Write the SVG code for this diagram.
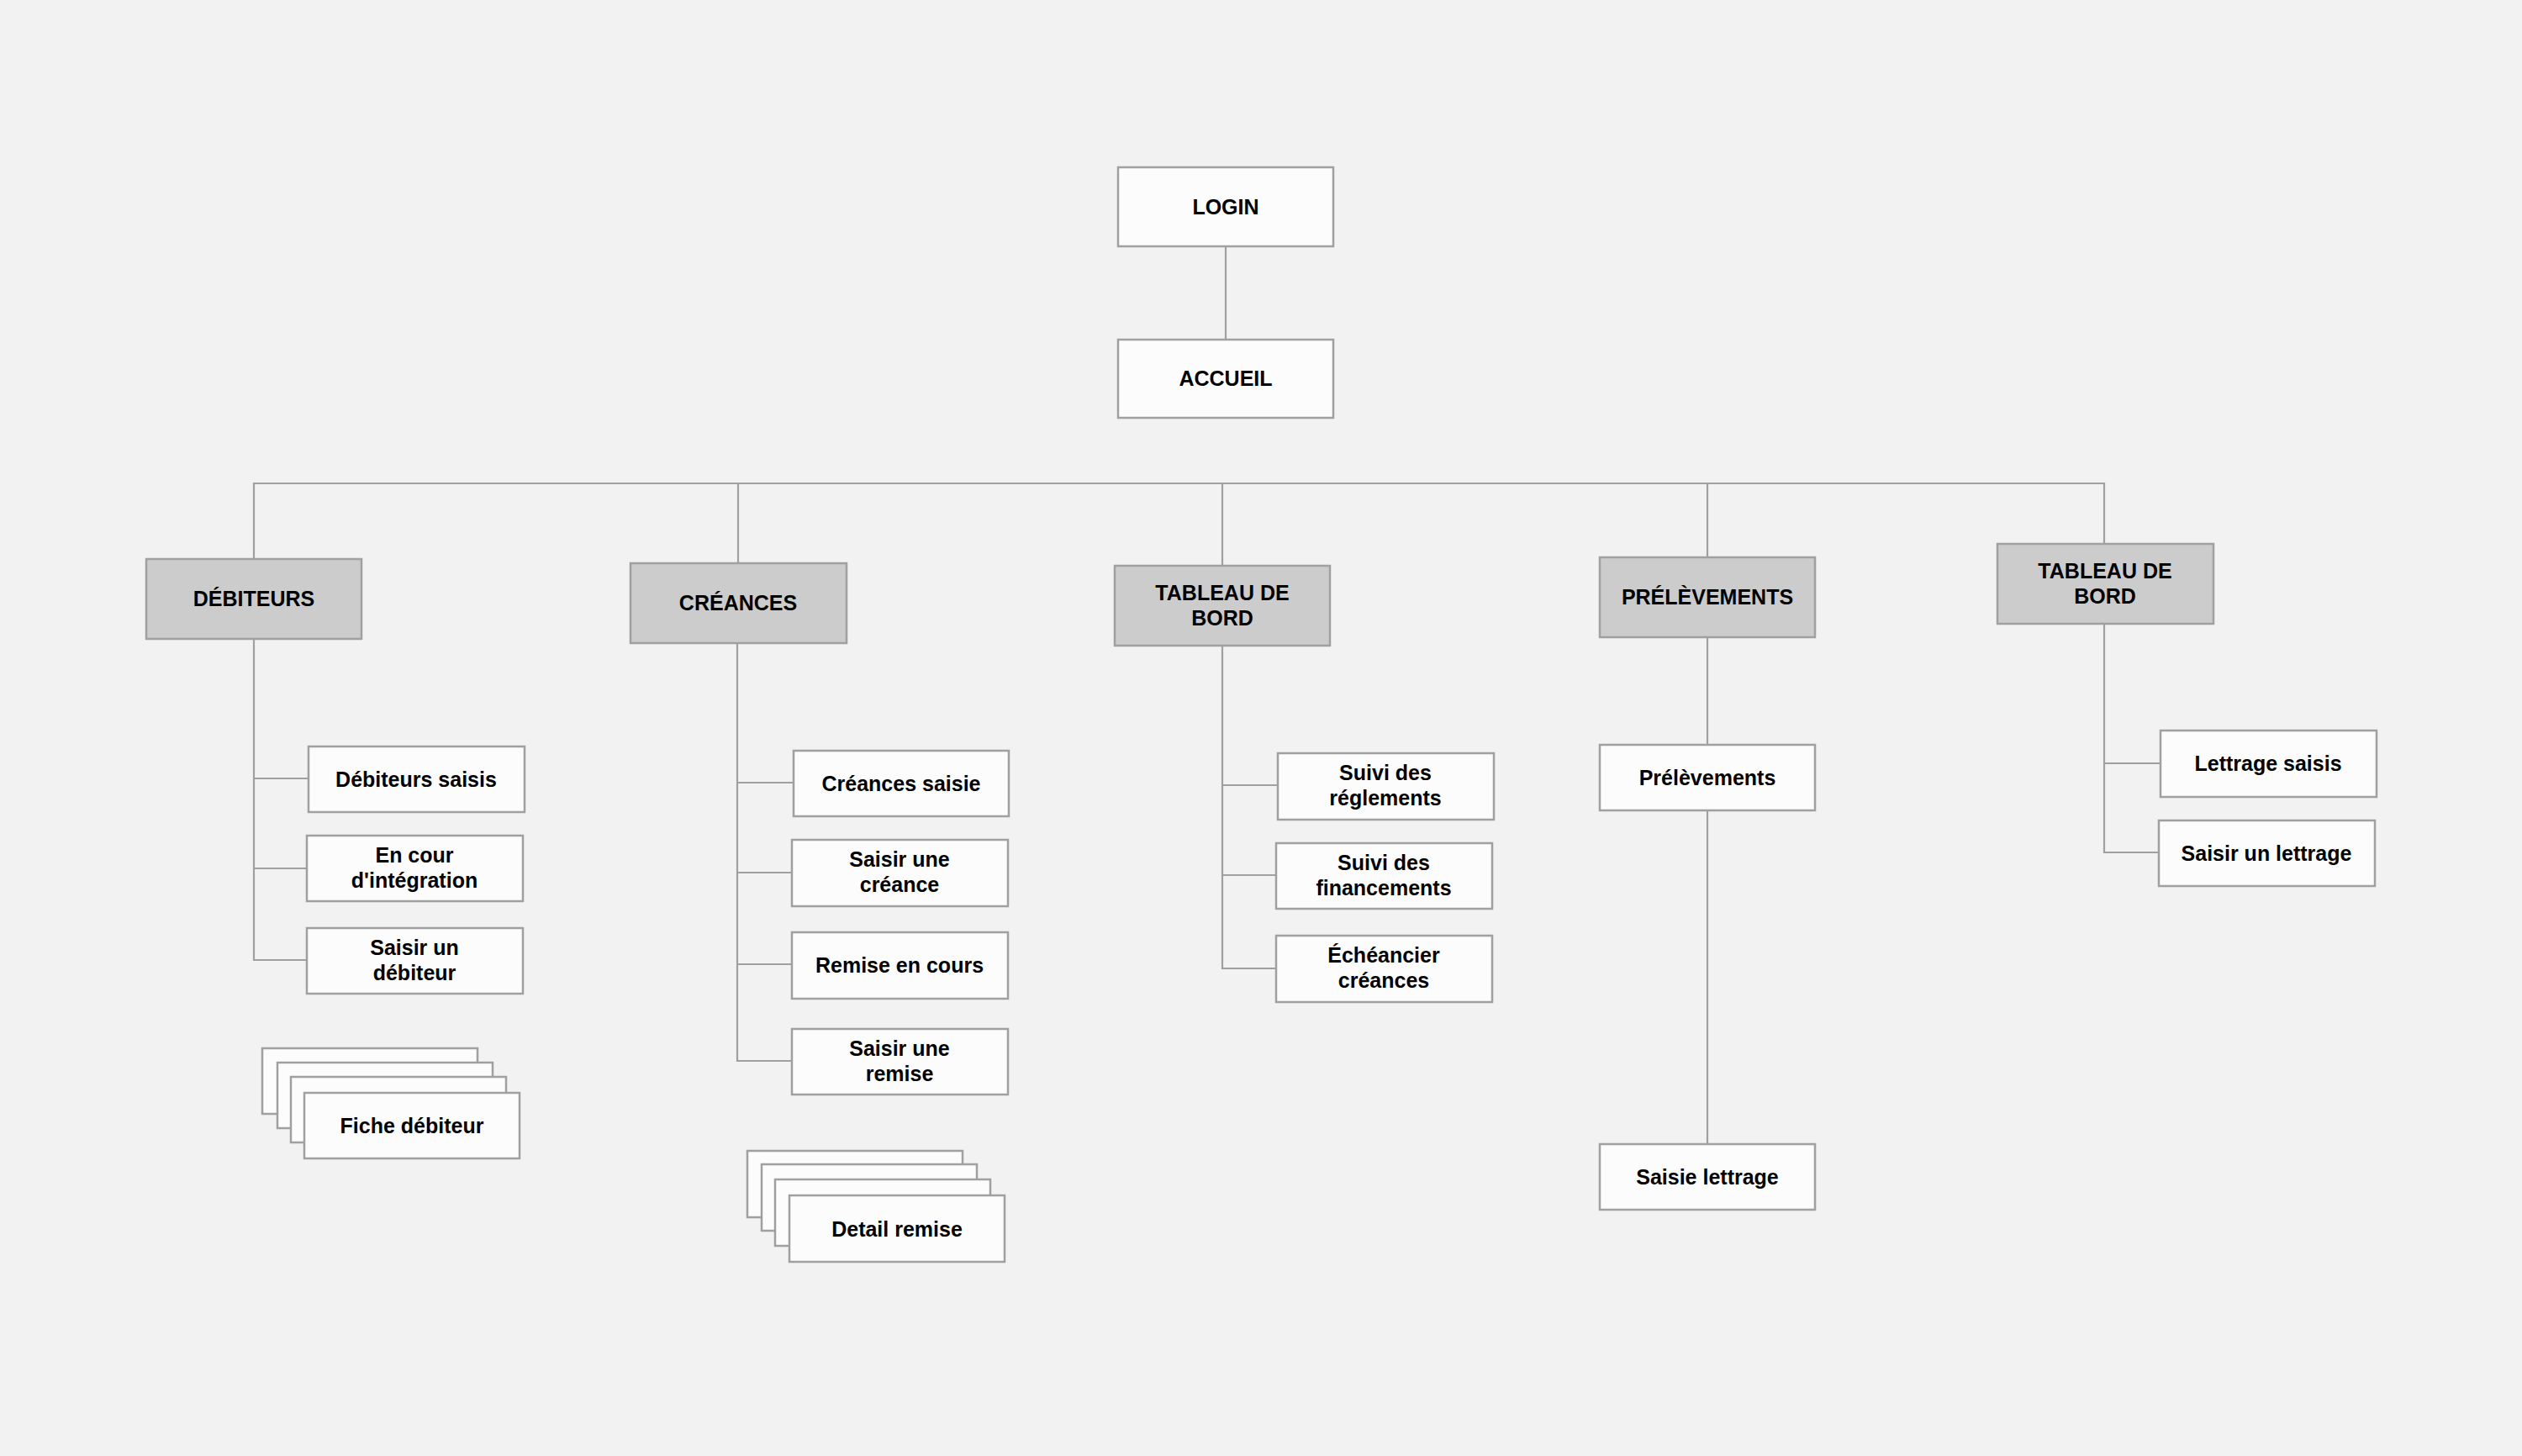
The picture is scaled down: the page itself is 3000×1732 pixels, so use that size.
<svg xmlns="http://www.w3.org/2000/svg" width="3000" height="1732" viewBox="0 0 3000 1732">
<style>
.box{fill:#fcfcfc;stroke:#a0a0a0;stroke-width:2.5}
.hdr{fill:#cccccc;stroke:#a0a0a0;stroke-width:2.5}
.t{font-family:"Liberation Sans",Arial,Helvetica,sans-serif;font-weight:bold;font-size:25px;fill:#000;text-anchor:middle}
.c{stroke:#a0a0a0;stroke-width:2.2;fill:none}
</style>
<rect width="3000" height="1732" fill="#f2f2f2"/>
<g id="connectors">
<path class="c" d="M1458 293V404"/>
<path class="c" d="M302 665V575H2503V647"/>
<path class="c" d="M878 575V670"/>
<path class="c" d="M1454 576V673"/>
<path class="c" d="M2031 576V663"/>
<path class="c" d="M302 760V1142H365M302 926H367M302 1033H365"/>
<path class="c" d="M877 765V1262H942M877 931H944M877 1038H942M877 1147H942"/>
<path class="c" d="M1454 768V1152H1518M1454 934H1520M1454 1041H1518"/>
<path class="c" d="M2031 758V886M2031 964V1361"/>
<path class="c" d="M2503 742V1014H2568M2503 908H2570"/>
</g>
<g id="login"><rect class="box" x="1330" y="199" width="256" height="94"/><text class="t" x="1458" y="255">LOGIN</text></g>
<g id="accueil"><rect class="box" x="1330" y="404" width="256" height="93"/><text class="t" x="1458" y="459">ACCUEIL</text></g>
<g id="debiteurs"><rect class="hdr" x="174" y="665" width="256" height="95"/><text class="t" x="302" y="721">DÉBITEURS</text></g>
<g id="creances"><rect class="hdr" x="750" y="670" width="257" height="95"/><text class="t" x="878" y="726">CRÉANCES</text></g>
<g id="tableau-de-bord-1"><rect class="hdr" x="1326" y="673" width="256" height="95"/><text class="t" x="1454" y="714"><tspan x="1454">TABLEAU DE</tspan><tspan x="1454" dy="30">BORD</tspan></text></g>
<g id="prelevements"><rect class="hdr" x="1903" y="663" width="256" height="95"/><text class="t" x="2031" y="719">PRÉLÈVEMENTS</text></g>
<g id="tableau-de-bord-2"><rect class="hdr" x="2376" y="647" width="257" height="95"/><text class="t" x="2504" y="688"><tspan x="2504">TABLEAU DE</tspan><tspan x="2504" dy="30">BORD</tspan></text></g>
<g id="debiteurs-saisis"><rect class="box" x="367" y="888" width="257" height="78"/><text class="t" x="495" y="936">Débiteurs saisis</text></g>
<g id="en-cour"><rect class="box" x="365" y="994" width="257" height="78"/><text class="t" x="493" y="1026"><tspan x="493">En cour</tspan><tspan x="493" dy="30">d'intégration</tspan></text></g>
<g id="saisir-debiteur"><rect class="box" x="365" y="1104" width="257" height="78"/><text class="t" x="493" y="1136"><tspan x="493">Saisir un</tspan><tspan x="493" dy="30">débiteur</tspan></text></g>
<g id="fiche-debiteur">
<rect class="box" x="312" y="1247" width="256" height="78"/>
<rect class="box" x="330" y="1264" width="256" height="78"/>
<rect class="box" x="346" y="1281" width="256" height="78"/>
<rect class="box" x="362" y="1300" width="256" height="78"/>
<text class="t" x="490" y="1348">Fiche débiteur</text>
</g>
<g id="creances-saisie"><rect class="box" x="944" y="893" width="256" height="78"/><text class="t" x="1072" y="941">Créances saisie</text></g>
<g id="saisir-creance"><rect class="box" x="942" y="999" width="257" height="79"/><text class="t" x="1070" y="1031"><tspan x="1070">Saisir une</tspan><tspan x="1070" dy="30">créance</tspan></text></g>
<g id="remise-en-cours"><rect class="box" x="942" y="1109" width="257" height="79"/><text class="t" x="1070" y="1157">Remise en cours</text></g>
<g id="saisir-remise"><rect class="box" x="942" y="1224" width="257" height="78"/><text class="t" x="1070" y="1256"><tspan x="1070">Saisir une</tspan><tspan x="1070" dy="30">remise</tspan></text></g>
<g id="detail-remise">
<rect class="box" x="889" y="1369" width="256" height="79"/>
<rect class="box" x="906" y="1385" width="256" height="79"/>
<rect class="box" x="922" y="1403" width="256" height="79"/>
<rect class="box" x="939" y="1422" width="256" height="79"/>
<text class="t" x="1067" y="1471">Detail remise</text>
</g>
<g id="suivi-reglements"><rect class="box" x="1520" y="896" width="257" height="79"/><text class="t" x="1648" y="928"><tspan x="1648">Suivi des</tspan><tspan x="1648" dy="30">réglements</tspan></text></g>
<g id="suivi-financements"><rect class="box" x="1518" y="1003" width="257" height="78"/><text class="t" x="1646" y="1035"><tspan x="1646">Suivi des</tspan><tspan x="1646" dy="30">financements</tspan></text></g>
<g id="echeancier-creances"><rect class="box" x="1518" y="1113" width="257" height="79"/><text class="t" x="1646" y="1145"><tspan x="1646">Échéancier</tspan><tspan x="1646" dy="30">créances</tspan></text></g>
<g id="prelevements-child"><rect class="box" x="1903" y="886" width="256" height="78"/><text class="t" x="2031" y="934">Prélèvements</text></g>
<g id="saisie-lettrage"><rect class="box" x="1903" y="1361" width="256" height="78"/><text class="t" x="2031" y="1409">Saisie lettrage</text></g>
<g id="lettrage-saisis"><rect class="box" x="2570" y="869" width="257" height="79"/><text class="t" x="2698" y="917">Lettrage saisis</text></g>
<g id="saisir-lettrage"><rect class="box" x="2568" y="976" width="257" height="78"/><text class="t" x="2696" y="1024">Saisir un lettrage</text></g>
</svg>
